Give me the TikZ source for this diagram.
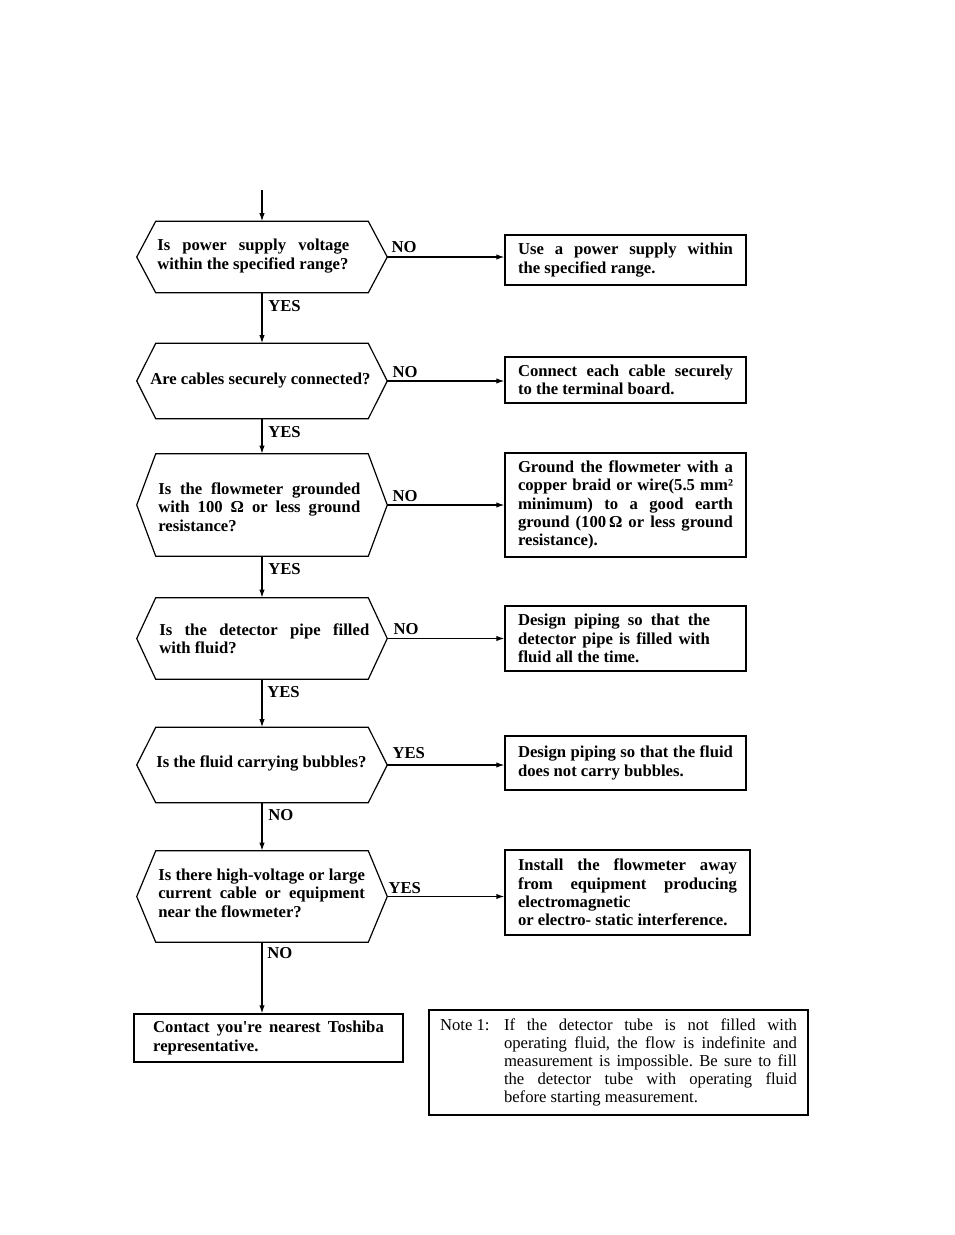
\documentclass[tikz,border=0pt]{standalone}
\usepackage{fontspec}
\setmainfont{Liberation Serif}[Ligatures=TeXOff]
\usetikzlibrary{arrows.meta,calc}
\tolerance=10000 \hbadness=10000 \hyphenpenalty=10000 \exhyphenpenalty=10000
\frenchspacing
\tikzset{
  base/.style={font=\fontsize{12.5}{13.8}\selectfont\bfseries},
  hexbox/.style={minimum width=187.5pt, inner sep=0pt, draw=none},
  qtext/.style={base, anchor=west, inner sep=0pt, align=justify},
  actbox/.style={base, draw, line width=0.9pt, align=justify, inner xsep=9.75pt, text width=161.25pt},
  lab/.style={base, inner sep=0pt, anchor=west},
  flow/.style={line width=0.9pt, -{Latex[length=6pt,width=4pt]}},
  outline/.style={line width=0.9pt},
}
\newcommand\hexoutline[1]{\draw[outline] (#1.west) -- ($(#1.north west)+(19,0)$) -- ($(#1.north east)+(-19,0)$) -- (#1.east) -- ($(#1.south east)+(-19,0)$) -- ($(#1.south west)+(19,0)$) -- cycle;}
\begin{document}
\begin{tikzpicture}[x=0.75pt,y=-0.75pt]
\useasboundingbox (0,0) rectangle (954,1235);

\coordinate (start) at (262,190);
\node[hexbox, minimum height=53.25pt] (h1) at (262,257) {};
\node[hexbox, minimum height=56.25pt] (h2) at (262,381) {};
\node[hexbox, minimum height=76.5pt] (h3) at (262,505) {};
\node[hexbox, minimum height=60.75pt] (h4) at (262,638.5) {};
\node[hexbox, minimum height=56.25pt] (h5) at (262,765) {};
\node[hexbox, minimum height=68.25pt] (h6) at (262,896.5) {};
\hexoutline{h1}\hexoutline{h2}\hexoutline{h3}\hexoutline{h4}\hexoutline{h5}\hexoutline{h6}

\node[qtext, text width=144pt] (q1) at (157,256) {Is power supply voltage\linebreak within the specified range?};
\node[qtext] (q2) at (150,381) {Are cables securely connected?};
\node[qtext, text width=151.5pt] (q3) at (158,507) {Is the flowmeter grounded\linebreak with 100 Ω or less ground\linebreak resistance?};
\node[qtext, text width=157.5pt] (q4) at (159,639) {Is the detector pipe filled\linebreak with fluid?};
\node[qtext] (q5) at (156,763) {Is the fluid carrying bubbles?};
\node[qtext, text width=155pt] (q6) at (158,893) {Is there high-voltage or large\linebreak current cable or equipment\linebreak near the flowmeter?};

\node[actbox, minimum height=37.5pt] (a1) at (625.5,260) {Use a power supply within\linebreak the specified range.};
\node[actbox, minimum height=34.5pt] (a2) at (625.5,380) {Connect each cable securely\linebreak to the terminal board.};
\node[actbox, minimum height=78pt] (a3) at (625.5,505) {Ground the flowmeter with a\linebreak copper braid or wire(5.5 mm²\linebreak minimum) to a good earth\linebreak ground (100\,Ω or less ground\linebreak resistance).};
\node[actbox, minimum height=48.75pt] (a4) at (625.5,638.5) {\parbox{144pt}{Design piping so that the\linebreak detector pipe is filled with\linebreak fluid all the time.}};
\node[actbox, minimum height=40.5pt] (a5) at (625.5,763) {Design piping so that the fluid\linebreak does not carry bubbles.};
\node[actbox, text width=164.25pt, minimum height=63.75pt] (a6) at (627.5,892.5) {Install the flowmeter away\linebreak from equipment producing\linebreak electromagnetic\\ or electro- static interference.};

\node[base, draw, line width=0.9pt, minimum width=201.75pt, minimum height=36pt, inner xsep=12.75pt, text width=173pt, align=justify] (end) at (268.5,1038) {Contact you\textquotesingle re nearest Toshiba\linebreak representative.};

\node[draw, line width=0.9pt, font=\fontsize{12.5}{13.5}\selectfont, minimum width=284.25pt, minimum height=78.75pt, inner xsep=8.25pt] (note) at (618.5,1062.5) {\parbox{267.75pt}{\hangindent=48pt\hangafter=1\noindent\makebox[48pt][l]{Note 1:}If the detector tube is not filled with\linebreak operating fluid, the flow is indefinite and\linebreak measurement is impossible. Be sure to fill\linebreak the detector tube with operating fluid\linebreak before starting measurement.}};

\draw[flow] (start) -- (h1.north);
\draw[flow] (h1.south) -- (h2.north);
\draw[flow] (h2.south) -- (h3.north);
\draw[flow] (h3.south) -- (h4.north);
\draw[flow] (h4.south) -- (h5.north);
\draw[flow] (h5.south) -- (h6.north);
\draw[flow] (h6.south) -- (h6.south |- end.north);

\draw[flow] (h1.east) -- (h1.east -| a1.west);
\draw[flow] (h2.east) -- (h2.east -| a2.west);
\draw[flow] (h3.east) -- (h3.east -| a3.west);
\draw[flow] (h4.east) -- (h4.east -| a4.west);
\draw[flow] (h5.east) -- (h5.east -| a5.west);
\draw[flow] (h6.east) -- (h6.east -| a6.west);

\node[lab] (n1) at ($(h1.east)+(4,-10)$) {NO};
\node[lab] (n2) at ($(h2.east)+(5,-9)$) {NO};
\node[lab] (n3) at ($(h3.east)+(5,-9)$) {NO};
\node[lab] (n4) at ($(h4.east)+(6,-9)$) {NO};
\node[lab] (n5) at ($(h5.east)+(5,-12)$) {YES};
\node[lab] (n6) at ($(h6.east)+(1,-8)$) {YES};

\node[lab] (y1) at ($(h1.south)+(6,13)$) {YES};
\node[lab] (y2) at ($(h2.south)+(6,13)$) {YES};
\node[lab] (y3) at ($(h3.south)+(6,13)$) {YES};
\node[lab] (y4) at ($(h4.south)+(5,13)$) {YES};
\node[lab] (y5) at ($(h5.south)+(6,12)$) {NO};
\node[lab] (y6) at ($(h6.south)+(5,11)$) {NO};
\end{tikzpicture}
\end{document}
